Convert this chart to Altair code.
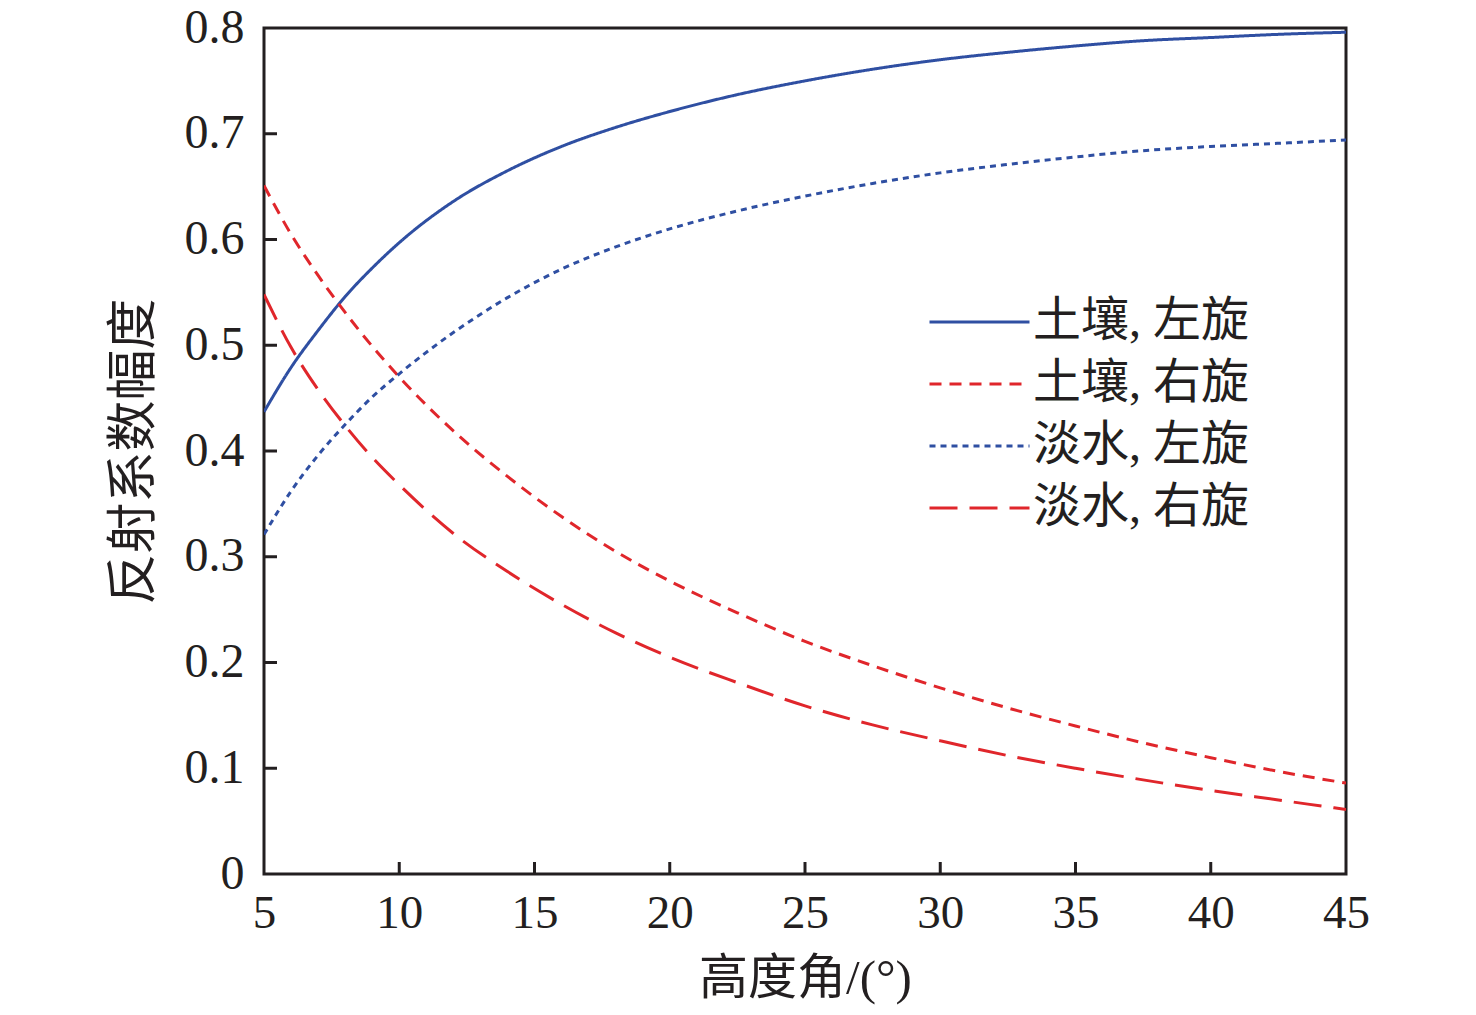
import altair as alt
import pandas as pd

angles = [5, 6, 7, 8, 9, 10, 12, 14, 16, 18, 20, 22.5, 25, 27.5, 30, 32.5, 35, 37.5, 40, 42.5, 45]
soil_lhcp = [0.437, 0.479, 0.514, 0.546, 0.573, 0.597, 0.636, 0.665, 0.688, 0.706, 0.721,
             0.737, 0.750, 0.761, 0.770, 0.777, 0.783, 0.788, 0.791, 0.794, 0.796]
soil_rhcp = [0.651, 0.605, 0.566, 0.531, 0.499, 0.470, 0.419, 0.376, 0.338, 0.305, 0.277,
             0.247, 0.220, 0.197, 0.176, 0.157, 0.140, 0.124, 0.110, 0.097, 0.086]
water_lhcp = [0.321, 0.362, 0.396, 0.425, 0.451, 0.473, 0.512, 0.545, 0.572, 0.593, 0.610,
              0.627, 0.641, 0.653, 0.663, 0.671, 0.678, 0.684, 0.688, 0.691, 0.694]
water_rhcp = [0.548, 0.498, 0.458, 0.424, 0.394, 0.368, 0.322, 0.286, 0.255, 0.228, 0.205,
              0.181, 0.159, 0.141, 0.126, 0.112, 0.100, 0.089, 0.079, 0.070, 0.061]

series_names = ["土壤, 左旋", "土壤, 右旋", "淡水, 左旋", "淡水, 右旋"]
series_colors = ["#2F4FA2", "#E0262B", "#2F4FA2", "#E0262B"]
series_dashes = [[1, 0], [12, 8], [6, 5], [28, 12]]
x_ticks = [5, 10, 15, 20, 25, 30, 35, 40, 45]
y_ticks = [0, 0.1, 0.2, 0.3, 0.4, 0.5, 0.6, 0.7, 0.8]

rows = []
for name, vals in zip(series_names, [soil_lhcp, soil_rhcp, water_lhcp, water_rhcp]):
    for a, v in zip(angles, vals):
        rows.append({"angle": a, "value": v, "series": name})
df = pd.DataFrame(rows)

SERIF = "Liberation Serif, Noto Sans CJK SC"
INK = "#231F20"
W, H = 1082, 846

xscale = alt.Scale(domain=[5, 45], nice=False, zero=False)
yscale = alt.Scale(domain=[0, 0.8], nice=False)

xaxis = alt.Axis(values=x_ticks, title="高度角/(°)", ticks=False, domain=False,
                 labelFont=SERIF, labelFontSize=47, labelColor=INK, labelPadding=16,
                 labelFlush=False,
                 titleFont=SERIF, titleFontSize=49, titleFontWeight="normal",
                 titleColor=INK, titlePadding=18, grid=False)
yaxis = alt.Axis(values=y_ticks, title="反射系数幅度", ticks=False, domain=False,
                 labelExpr="datum.value == 0 ? '0' : format(datum.value, '.1f')",
                 labelFont=SERIF, labelFontSize=48, labelColor=INK, labelPadding=20,
                 labelFlush=False,
                 titleFont=SERIF, titleFontSize=51, titleFontWeight="normal",
                 titleColor=INK, titlePadding=24, grid=False)

lines = alt.Chart(df).mark_line(strokeWidth=3, clip=True, interpolate="monotone").encode(
    x=alt.X("angle:Q", scale=xscale, axis=xaxis),
    y=alt.Y("value:Q", scale=yscale, axis=yaxis),
    color=alt.Color("series:N", scale=alt.Scale(domain=series_names, range=series_colors),
                    title=None,
                    legend=alt.Legend(orient="none", legendX=664, legendY=263,
                                      symbolType="stroke", symbolSize=10000,
                                      symbolStrokeWidth=3, labelFont=SERIF,
                                      labelFontSize=48, labelColor=INK, labelOffset=2,
                                      clipHeight=62, rowPadding=0, padding=0,
                                      labelLimit=400)),
    strokeDash=alt.StrokeDash("series:N", scale=alt.Scale(domain=series_names, range=series_dashes),
                              title=None),
    detail="series:N",
)

xt_df = pd.DataFrame({"angle": x_ticks[1:-1]})
yt_df = pd.DataFrame({"value": y_ticks[1:-1]})

xticks = alt.Chart(xt_df).mark_rule(color=INK, strokeWidth=3).encode(
    x=alt.X("angle:Q", scale=xscale, axis=xaxis),
    y=alt.value(H),
    y2=alt.value(H - 12),
)
yticks = alt.Chart(yt_df).mark_rule(color=INK, strokeWidth=3).encode(
    y=alt.Y("value:Q", scale=yscale, axis=yaxis),
    x=alt.value(0),
    x2=alt.value(13),
)

chart = alt.layer(lines, xticks, yticks).properties(
    width=W, height=H,
    autosize=alt.AutoSizeParams(type="none"),
    padding={"left": 256, "top": 20, "right": 122, "bottom": 138},
    background="white",
).configure_view(stroke=INK, strokeWidth=3)

chart.save("out.html", embed_options={"renderer": "svg", "actions": False})
